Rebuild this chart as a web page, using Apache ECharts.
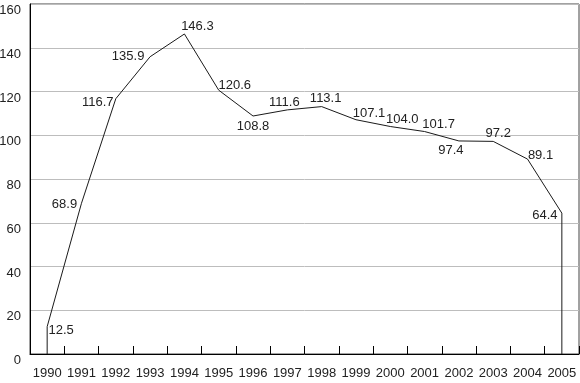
<!DOCTYPE html>
<html>
<head>
<meta charset="utf-8">
<script src="https://cdn.jsdelivr.net/npm/echarts@6/dist/echarts.min.js"></script>
<style>
html,body{margin:0;padding:0;background:#fff;}
#chart{width:580px;height:383px;}
</style>
</head>
<body>
<div id="chart"></div>
<script>
// ---- data ----
var years = ['1990','1991','1992','1993','1994','1995','1996','1997','1998','1999','2000','2001','2002','2003','2004','2005'];
var values = [12.5, 68.9, 116.7, 135.9, 146.3, 120.6, 108.8, 111.6, 113.1, 107.1, 104.0, 101.7, 97.4, 97.2, 89.1, 64.4];
var yTicks = [0, 20, 40, 60, 80, 100, 120, 140, 160];

// ---- label placement (style, pixel offsets of label centre from point) ----
var labelOffsets = [[14,4],[-17,1],[-18,4],[-22,0],[13,-8],[16,-5],[0,10],[-3,-7],[4,-8],[13,-6],[12,-7],[14,-7],[-8,9],[5,-8],[13,-4],[-17,2]];

var FONT = "'Liberation Sans Narrow','Arial Narrow','Liberation Sans',Arial,sans-serif";
var FS = 13;
var LINE = '#1a1a1a';

var chart = echarts.init(document.getElementById('chart'), null, {renderer:'canvas'});

var mainData = values.map(function(v, i){
  return {
    value: v,
    label: {offset: labelOffsets[i]}
  };
});

var last = years.length - 1;

chart.setOption({
  animation: false,
  backgroundColor: '#fff',
  grid: {left: 30, right: 1, top: 4, bottom: 29, containLabel: false, outerBoundsMode: 'none',
         show: true, borderColor: '#444', borderWidth: 1, backgroundColor: 'transparent'},
  xAxis: {
    type: 'category',
    data: years,
    boundaryGap: true,
    axisLine: {show: true, lineStyle: {color: '#000', width: 1}},
    axisTick: {show: true, inside: true, length: 8, lineStyle: {color: '#000'}},
    axisLabel: {fontFamily: FONT, fontSize: FS, color: '#222', margin: 13, interval: 0, hideOverlap: false},
    splitLine: {show: false}
  },
  yAxis: {
    type: 'value',
    min: yTicks[0],
    max: yTicks[yTicks.length - 1],
    interval: yTicks[1] - yTicks[0],
    axisLine: {show: true, lineStyle: {color: '#000', width: 1}},
    axisTick: {show: false},
    axisLabel: {fontFamily: FONT, fontSize: FS, color: '#222', margin: 9, verticalAlign: 'top'},
    splitLine: {show: true, lineStyle: {color: '#bdbdbd', width: 1}}
  },
  series: [
    {
      type: 'line',
      data: mainData,
      symbol: 'circle',
      symbolSize: 0.1,
      showSymbol: true,
      itemStyle: {color: 'transparent'},
      lineStyle: {color: LINE, width: 1},
      label: {
        show: true,
        position: 'inside',
        align: 'center',
        verticalAlign: 'middle',
        fontFamily: FONT,
        fontSize: FS,
        color: '#222',
        formatter: function(p){ return p.value.toFixed(1); }
      },
      z: 3
    },
    {
      type: 'line',
      data: [[years[0], 0], [years[0], values[0]]],
      symbol: 'none',
      lineStyle: {color: LINE, width: 1},
      z: 3
    },
    {
      type: 'line',
      data: [[years[last], values[last]], [years[last], 0]],
      symbol: 'none',
      lineStyle: {color: LINE, width: 1},
      z: 3
    }
  ]
});
</script>
</body>
</html>
